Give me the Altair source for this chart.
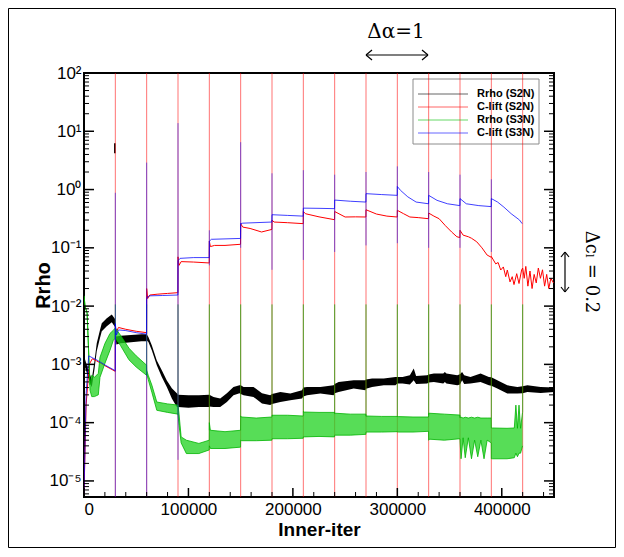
import altair as alt
import pandas as pd

# ------------------------------------------------------------------ data
restart_x = [30000 * k for k in range(1, 15)]

black_x = [1000, 4000, 7400, 10000, 12200, 15000, 17000, 21800, 26600, 29700,
           30000, 31000, 35000, 45000, 55000, 59900,
           60000, 61650, 64900, 69700, 74500, 79300, 84100, 88900,
           90000, 100000, 110000, 119900,
           120000, 124000, 130400, 136800, 143100, 148900,
           150000, 152800, 162300, 170400, 178300,
           180000, 188000, 197500, 208700,
           210000, 213500, 226300, 239000,
           240000, 243800, 258200, 269400,
           270000, 275800, 287000, 298200,
           300000, 305000, 312000, 315700, 318000, 328600,
           330000, 335000, 344000, 345500, 347000, 357400,
           360000, 362000, 364000, 370000, 379700, 387600,
           390000, 395700, 405300, 414900,
           420000, 424500, 437200, 450000]
black_hi = [1.22e-3, 8.2e-4, 5.5e-4, 1.13e-3, 2.3e-3, 3.7e-3, 5.07e-3, 6.2e-3, 7.2e-3, 6.0e-3,
            5.0e-3, 3.0e-3, 3.1e-3, 3.2e-3, 3.3e-3, 3.3e-3,
            3.3e-3, 2.95e-3, 2.13e-3, 1.17e-3, 7.9e-4, 5.3e-4, 3.9e-4, 3.2e-4,
            3.0e-4, 2.95e-4, 2.95e-4, 3.0e-4,
            3.0e-4, 2.76e-4, 2.6e-4, 3.2e-4, 4.1e-4, 4.4e-4,
            4.4e-4, 4.1e-4, 4.1e-4, 3.2e-4, 2.95e-4,
            3.1e-4, 3.37e-4, 3.15e-4, 3.6e-4,
            4.0e-4, 4.1e-4, 4.1e-4, 4.38e-4,
            4.6e-4, 5.0e-4, 5.33e-4, 5.33e-4,
            5.5e-4, 5.7e-4, 5.7e-4, 6.1e-4,
            6.1e-4, 6.1e-4, 6.5e-4, 8.5e-4, 6.3e-4, 6.5e-4,
            6.7e-4, 6.95e-4, 6.95e-4, 7.4e-4, 6.95e-4, 6.5e-4,
            6.8e-4, 7.4e-4, 6.5e-4, 6.1e-4, 6.95e-4, 6.1e-4,
            6.0e-4, 5.33e-4, 4.38e-4, 4.1e-4,
            4.2e-4, 4.38e-4, 4.1e-4, 4.0e-4]
black_lo = [8.9e-4, 6.0e-4, 4.05e-4, 8.2e-4, 1.68e-3, 2.7e-3, 3.7e-3, 4.5e-3, 5.3e-3, 4.4e-3,
            3.5e-3, 2.2e-3, 2.3e-3, 2.4e-3, 2.5e-3, 2.5e-3,
            2.6e-3, 2.42e-3, 1.75e-3, 9.7e-4, 6.1e-4, 4.1e-4, 2.6e-4, 1.86e-4,
            1.85e-4, 1.8e-4, 1.85e-4, 1.85e-4,
            1.9e-4, 1.86e-4, 1.86e-4, 2.26e-4, 2.95e-4, 3.2e-4,
            3.1e-4, 2.95e-4, 2.76e-4, 2.13e-4, 2.0e-4,
            2.1e-4, 2.26e-4, 2.42e-4, 2.59e-4,
            2.8e-4, 2.95e-4, 3.15e-4, 2.95e-4,
            3.2e-4, 3.37e-4, 3.85e-4, 3.6e-4,
            3.8e-4, 4.1e-4, 4.38e-4, 4.38e-4,
            4.7e-4, 4.7e-4, 4.5e-4, 5.33e-4, 4.6e-4, 4.7e-4,
            4.9e-4, 5.0e-4, 4.7e-4, 5.0e-4, 4.7e-4, 4.38e-4,
            4.5e-4, 5.33e-4, 4.6e-4, 4.7e-4, 5.0e-4, 4.38e-4,
            4.3e-4, 3.85e-4, 3.15e-4, 3.15e-4,
            3.2e-4, 3.37e-4, 3.24e-4, 3.37e-4]

red_x = [0, 2000, 5000, 8000, 12000, 20000, 29900,
         30000, 31000, 33000, 40000, 50000, 59900,
         60000, 61000, 63000, 70000, 80000, 89900,
         90000, 91000, 93000, 105000, 119900,
         120000, 121000, 125000, 135000, 149900,
         150000, 152000, 159000, 170000, 179900,
         180000, 182000, 195000, 209900,
         210000, 212000, 225000, 239900,
         240000, 250000, 260000, 269900,
         270000, 280000, 290000, 299900,
         300000, 306000, 312000, 320000, 329900,
         330000, 335000, 340000, 346000, 352000, 357000, 359900,
         360000, 363000, 368000, 371000, 376000, 381000, 386000, 389900,
         390000, 394200, 396500, 399000, 401500, 403800, 405300, 407900, 410000,
         411700, 414300, 416500, 419000,
         420000, 421500, 423000, 425000, 427000, 429000, 431000, 433000, 435000,
         437000, 439000, 441000, 443000, 445000, 447000, 449500]
red_y = [6e-6, 2e-4, 1.0e-3, 1.25e-3, 1.15e-3, 9.5e-4, 7.6e-4,
         4.5e-3, 3.6e-3, 4.3e-3, 4.0e-3, 3.7e-3, 3.5e-3,
         2.0e-2, 1.35e-2, 1.55e-2, 1.6e-2, 1.65e-2, 1.7e-2,
         7.0e-2, 5.0e-2, 5.8e-2, 5.7e-2, 5.5e-2,
         0.13, 0.105, 0.11, 0.11, 0.115,
         0.26, 0.227, 0.215, 0.187, 0.207,
         0.30, 0.277, 0.27, 0.26,
         0.42, 0.385, 0.34, 0.304,
         0.42, 0.338, 0.34, 0.338,
         0.45, 0.38, 0.35, 0.338,
         0.44, 0.385, 0.338, 0.33, 0.316,
         0.395, 0.35, 0.316, 0.24, 0.187, 0.155, 0.15,
         0.20, 0.165, 0.155, 0.146, 0.127, 0.10, 0.075, 0.069,
         0.071, 0.053, 0.056, 0.0416, 0.047, 0.032, 0.0416, 0.026, 0.032,
         0.0234, 0.036, 0.0244, 0.0416,
         0.045, 0.030, 0.048, 0.022, 0.040, 0.020, 0.035, 0.025, 0.045,
         0.030, 0.042, 0.022, 0.035, 0.020, 0.030, 0.025]

green_x = [0, 1000, 3000, 5750, 7400, 10000, 13700, 15300, 20100, 24900, 28100, 29900,
           30000, 35000, 43000, 50000, 59900,
           60000, 61500, 65000, 69700, 80000, 89900,
           90000, 91000, 93000, 98000, 110000, 119900,
           120000, 121000, 135000, 149900,
           150000, 151000, 165000, 179900,
           180000, 181000, 195000, 209900,
           210000, 211000, 225000, 239900,
           240000, 241000, 255000, 269900,
           270000, 271000, 285000, 299900,
           300000, 301000, 315000, 329900,
           330000, 331000, 345000, 359900,
           360000, 361000, 363000, 365000, 368000, 371000, 374000, 377000, 380000,
           383000, 386000, 389900,
           390000, 391000, 405000, 412000, 413500, 415000, 416500, 418000, 419900]
green_hi = [1.5e-2, 1.0e-2, 7.6e-3, 4.5e-4, 6.5e-4, 6.0e-4, 7.0e-4, 1.32e-3, 2.3e-3, 3.4e-3, 3.85e-3, 4.2e-3,
            4.2e-3, 3.15e-3, 1.9e-3, 1.4e-3, 9.7e-4,
            8.0e-4, 6.5e-4, 4.4e-4, 2.26e-4, 2.1e-4, 2.0e-4,
            2.0e-4, 1.4e-4, 5.7e-5, 5.0e-5, 4.4e-5, 5.0e-5,
            1.0e-4, 7.4e-5, 7.0e-5, 7.4e-5,
            1.3e-4, 1.25e-4, 1.2e-4, 1.25e-4,
            1.34e-4, 1.34e-4, 1.34e-4, 1.3e-4,
            1.55e-4, 1.52e-4, 1.5e-4, 1.5e-4,
            1.45e-4, 1.45e-4, 1.4e-4, 1.4e-4,
            1.3e-4, 1.3e-4, 1.28e-4, 1.28e-4,
            1.27e-4, 1.27e-4, 1.25e-4, 1.25e-4,
            1.45e-4, 1.45e-4, 1.4e-4, 1.35e-4,
            1.24e-4, 1.24e-4, 1.2e-4, 1.24e-4, 1.2e-4, 1.24e-4, 1.2e-4, 1.24e-4, 1.2e-4,
            1.2e-4, 1.2e-4, 1.2e-4,
            8.1e-5, 8.1e-5, 8.0e-5, 8.1e-5, 2.0e-4, 8.0e-5, 2.0e-4, 8.0e-5, 1.5e-4]
green_lo = [1.5e-2, 1.0e-2, 7.6e-3, 3.6e-4, 2.8e-4, 2.8e-4, 3.0e-4, 6.0e-4, 1.05e-3, 1.75e-3, 2.6e-3, 2.8e-3,
            2.8e-3, 2.1e-3, 1.2e-3, 9.0e-4, 6.5e-4,
            7.0e-4, 5.5e-4, 3.3e-4, 1.63e-4, 1.5e-4, 1.4e-4,
            1.4e-4, 9.0e-5, 4.5e-5, 2.95e-5, 2.95e-5, 3.4e-5,
            4.0e-5, 3.6e-5, 3.6e-5, 3.8e-5,
            5.0e-5, 4.9e-5, 4.9e-5, 5.0e-5,
            5.3e-5, 5.3e-5, 5.3e-5, 5.4e-5,
            5.7e-5, 5.7e-5, 5.8e-5, 5.7e-5,
            6.1e-5, 6.1e-5, 6.1e-5, 6.3e-5,
            6.9e-5, 6.9e-5, 6.9e-5, 7.0e-5,
            6.9e-5, 6.9e-5, 6.9e-5, 7.1e-5,
            5.0e-5, 5.2e-5, 5.0e-5, 5.3e-5,
            5.0e-5, 2.4e-5, 5.5e-5, 2.5e-5, 5.5e-5, 2.4e-5, 5.0e-5, 2.6e-5, 5.0e-5,
            2.4e-5, 5.0e-5, 4.5e-5,
            2.4e-5, 2.4e-5, 2.4e-5, 2.5e-5, 3.0e-5, 2.6e-5, 3.0e-5, 3.0e-5, 4.0e-5]

blue_x = [0, 2000, 4500, 8000, 12000, 20000, 29900,
          30000, 31000, 33000, 40000, 50000, 59900,
          60000, 61000, 63000, 75000, 89900,
          90000, 92000, 105000, 119900,
          120000, 122000, 149900,
          150000, 152000, 179900,
          180000, 195000, 209900,
          210000, 225000, 239900,
          240000, 255000, 269900,
          270000, 285000, 299900,
          300000, 303000, 310000, 318000, 329900,
          330000, 338000, 348000, 359900,
          360000, 366000, 378000, 389900,
          390000, 396000, 402000, 409000, 417000, 419500]
blue_y = [6e-6, 3e-4, 1.4e-3, 1.3e-3, 1.2e-3, 9.8e-4, 7.8e-4,
          5e-3, 3.2e-3, 3.9e-3, 3.8e-3, 3.5e-3, 3.3e-3,
          1.3e-2, 1.45e-2, 1.5e-2, 1.52e-2, 1.55e-2,
          6.0e-2, 6.6e-2, 6.8e-2, 6.8e-2,
          0.13, 0.14, 0.145,
          0.26, 0.265, 0.277,
          0.37, 0.36, 0.35,
          0.48, 0.476, 0.47,
          0.66, 0.63, 0.61,
          0.85, 0.82, 0.795,
          1.13, 0.97, 0.75, 0.61, 0.57,
          0.795, 0.653, 0.57, 0.53,
          0.70, 0.57, 0.53, 0.51,
          0.70, 0.61, 0.50, 0.385, 0.30, 0.26]

# vertical restart excursions (low / high value of each jump)
YMIN, YMAX = 5.3e-6, 100.0
red_spike_lo = [YMIN] * 14
red_spike_hi = [YMAX] * 14
green_spike_lo = [2.8e-3, 6.5e-4, 1.4e-4, 7.4e-5, 1.25e-4, 1.3e-4, 1.5e-4, 1.4e-4,
                  1.28e-4, 1.25e-4, 1.35e-4, 1.2e-4, 1.2e-4, 1.5e-4]
green_spike_hi = [1.07e-2] * 14
blue_spike_lo = [YMIN, YMIN, 2.3e-5, 0.05, 0.1, 0.042, 0.062, 0.085, 0.11, 0.12, 0.10, 0.10, 0.085]
blue_spike_hi = [0.88, 2.9, 13.8, 0.2, 6.5, 1.9, 2.15, 1.8, 2.0, 2.5, 2.0, 1.8, 1.5]
black_spike_x = [29500]
black_spike_lo = [4.2]
black_spike_hi = [6.2]

series_names = ["Rrho (S2N)", "C-lift (S2N)", "Rrho (S3N)", "C-lift (S3N)"]
series_colors = ["#000000", "#ff0000", "#00c000", "#0000ff"]

y_major = [1e-5, 1e-4, 1e-3, 1e-2, 1e-1, 1e0, 1e1, 1e2]
x_major = [0, 100000, 200000, 300000, 400000]

# ------------------------------------------------------------------ frames
W, H = 470, 424
df_black = pd.DataFrame({"x": black_x, "lo": black_lo, "hi": black_hi})
df_red = pd.DataFrame({"x": red_x, "y": red_y})
df_green = pd.DataFrame({"x": green_x, "lo": green_lo, "hi": green_hi})
df_blue = pd.DataFrame({"x": blue_x, "y": blue_y})
df_rsp = pd.DataFrame({"x": restart_x, "lo": red_spike_lo, "hi": red_spike_hi})
df_gsp = pd.DataFrame({"x": restart_x, "lo": green_spike_lo, "hi": green_spike_hi})
df_bsp = pd.DataFrame({"x": restart_x[:13], "lo": blue_spike_lo, "hi": blue_spike_hi})
df_ksp = pd.DataFrame({"x": black_spike_x, "lo": black_spike_lo, "hi": black_spike_hi})
df_leg = pd.DataFrame({"name": series_names, "color": series_colors, "i": list(range(4))})

y_minor = [m * 10.0 ** e for e in range(-6, 2) for m in range(2, 10) if YMIN <= m * 10.0 ** e <= YMAX]
x_minor = [i * 20000 for i in range(1, 23) if (i * 20000) % 100000 != 0]
df_ymaj = pd.DataFrame({"v": y_major})
df_ymin = pd.DataFrame({"v": y_minor})
df_xmaj = pd.DataFrame({"v": x_major})
df_xmin = pd.DataFrame({"v": x_minor})

xscale = alt.Scale(domain=[0, 450000], nice=False, zero=False)
yscale = alt.Scale(type="log", domain=[YMIN, YMAX], nice=False)

sup = "['\u207b\u2075','\u207b\u2074','\u207b\u00b3','\u207b\u00b2','\u207b\u00b9','\u2070','\u00b9','\u00b2']"
x_axis = alt.Axis(values=x_major, format="d", ticks=False, domain=False, grid=False,
                  labelFontSize=17, labelFont="Liberation Sans", labelColor="black",
                  labelPadding=4, title="Inner-iter", titleFontSize=19,
                  titleFont="Liberation Sans", titleFontWeight="bold", titleColor="black",
                  titlePadding=3)
y_axis = alt.Axis(values=y_major, ticks=False, domain=False, grid=False,
                  labelExpr="'10' + " + sup + "[round(log(datum.value)/LN10)+5]",
                  labelFontSize=17, labelFont="Liberation Sans", labelColor="black",
                  labelPadding=3, title="Rrho", titleFontSize=20,
                  titleFont="Liberation Sans", titleFontWeight="bold", titleColor="black",
                  titlePadding=-5)


def X(f="x"):
    return alt.X(f + ":Q", scale=xscale, axis=x_axis)


def Y(f="y"):
    return alt.Y(f + ":Q", scale=yscale, axis=y_axis)


layers = []

# legend box (under the data, lines pass over it)
layers.append(alt.Chart(df_leg.head(1)).mark_rect(fill="white", stroke="#8c8c8c", strokeWidth=1).encode(
    x=alt.value(329), x2=alt.value(455), y=alt.value(6), y2=alt.value(71)))

# Rrho (S2N)
layers.append(alt.Chart(df_black).mark_area(color="black", clip=True).encode(x=X(), y=Y("lo"), y2="hi:Q"))
layers.append(alt.Chart(df_ksp).mark_rule(color="black", strokeWidth=1.5, clip=True).encode(x=X(), y=Y("lo"), y2="hi:Q"))
# C-lift (S2N)
layers.append(alt.Chart(df_rsp).mark_rule(color="#ff0000", strokeWidth=1, opacity=0.55, clip=True).encode(x=X(), y=Y("lo"), y2="hi:Q"))
layers.append(alt.Chart(df_red).mark_line(color="#ff0000", strokeWidth=1, clip=True).encode(x=X(), y=Y()))
# Rrho (S3N)
layers.append(alt.Chart(df_green).mark_area(color="#1fd11f", opacity=0.75, clip=True).encode(x=X(), y=Y("lo"), y2="hi:Q"))
layers.append(alt.Chart(df_green).mark_line(color="#00b400", strokeWidth=0.8, clip=True).encode(x=X(), y=Y("lo")))
layers.append(alt.Chart(df_green).mark_line(color="#00b400", strokeWidth=0.8, clip=True).encode(x=X(), y=Y("hi")))
layers.append(alt.Chart(df_gsp).mark_rule(color="#00b000", strokeWidth=1, opacity=0.7, clip=True).encode(x=X(), y=Y("lo"), y2="hi:Q"))
# C-lift (S3N)
layers.append(alt.Chart(df_bsp).mark_rule(color="#0000ff", strokeWidth=1, opacity=0.5, clip=True).encode(x=X(), y=Y("lo"), y2="hi:Q"))
layers.append(alt.Chart(df_blue).mark_line(color="#0000ff", strokeWidth=1, opacity=0.75, clip=True).encode(x=X(), y=Y()))

# legend entries
leg = alt.Chart(df_leg).transform_calculate(ypx="21 + 13 * datum.i")
layers.append(leg.mark_rule(strokeWidth=1, opacity=0.6).encode(
    x=alt.value(334), x2=alt.value(384), y=alt.Y("ypx:Q", scale=None),
    color=alt.Color("color:N", scale=None)))
layers.append(leg.mark_text(align="left", baseline="middle", fontSize=11, fontWeight="bold",
                            font="Liberation Sans", color="black").encode(
    x=alt.value(393), y=alt.Y("ypx:Q", scale=None), text="name:N"))

# inward tick marks
layers.append(alt.Chart(df_ymaj).mark_rule(color="black", strokeWidth=1.5).encode(x=alt.value(0), x2=alt.value(10), y=Y("v")))
layers.append(alt.Chart(df_ymin).mark_rule(color="black", strokeWidth=1).encode(x=alt.value(0), x2=alt.value(5), y=Y("v")))
layers.append(alt.Chart(df_ymaj).mark_rule(color="black", strokeWidth=1.5).encode(x=alt.value(W), x2=alt.value(W - 10), y=Y("v")))
layers.append(alt.Chart(df_ymin).mark_rule(color="black", strokeWidth=1).encode(x=alt.value(W), x2=alt.value(W - 5), y=Y("v")))
layers.append(alt.Chart(df_xmaj).mark_rule(color="black", strokeWidth=1.5).encode(x=X("v"), y=alt.value(H), y2=alt.value(H - 9)))
layers.append(alt.Chart(df_xmin).mark_rule(color="black", strokeWidth=1).encode(x=X("v"), y=alt.value(H), y2=alt.value(H - 5)))

# annotations
ann = alt.Chart(df_leg.head(1))
layers.append(ann.mark_text(text="\u0394\u03b1=1", fontSize=20, font="DejaVu Serif", color="black",
                            align="center", baseline="middle").encode(x=alt.value(312), y=alt.value(-41)))
for (x1, y1, x2, y2) in [(282, -18, 344, -18), (282, -18, 288, -23), (282, -18, 288, -13),
                         (344, -18, 338, -23), (344, -18, 338, -13),
                         (481, 179, 481, 219), (481, 179, 477, 184), (481, 179, 485, 184),
                         (481, 219, 477, 214), (481, 219, 485, 214)]:
    layers.append(ann.mark_rule(color="black", strokeWidth=1.2).encode(
        x=alt.value(x1), y=alt.value(y1), x2=alt.value(x2), y2=alt.value(y2)))
layers.append(ann.mark_text(text="\u0394c\u2097 = 0.2", fontSize=18, font="DejaVu Serif", color="black",
                            align="center", baseline="middle", angle=90).encode(x=alt.value(507), y=alt.value(199)))
# outer frame
layers.append(ann.mark_rect(fillOpacity=0, stroke="black", strokeWidth=1).encode(
    x=alt.value(-75.5), x2=alt.value(531.5), y=alt.value(-64.5), y2=alt.value(474.5)))

chart = alt.layer(*layers).properties(
    width=W, height=H, autosize="none",
    padding={"left": 76, "top": 65, "right": 62, "bottom": 51},
    background="white",
).configure_view(stroke="black", strokeWidth=2)

chart.save("out.html", embed_options={"renderer": "svg", "actions": False})
